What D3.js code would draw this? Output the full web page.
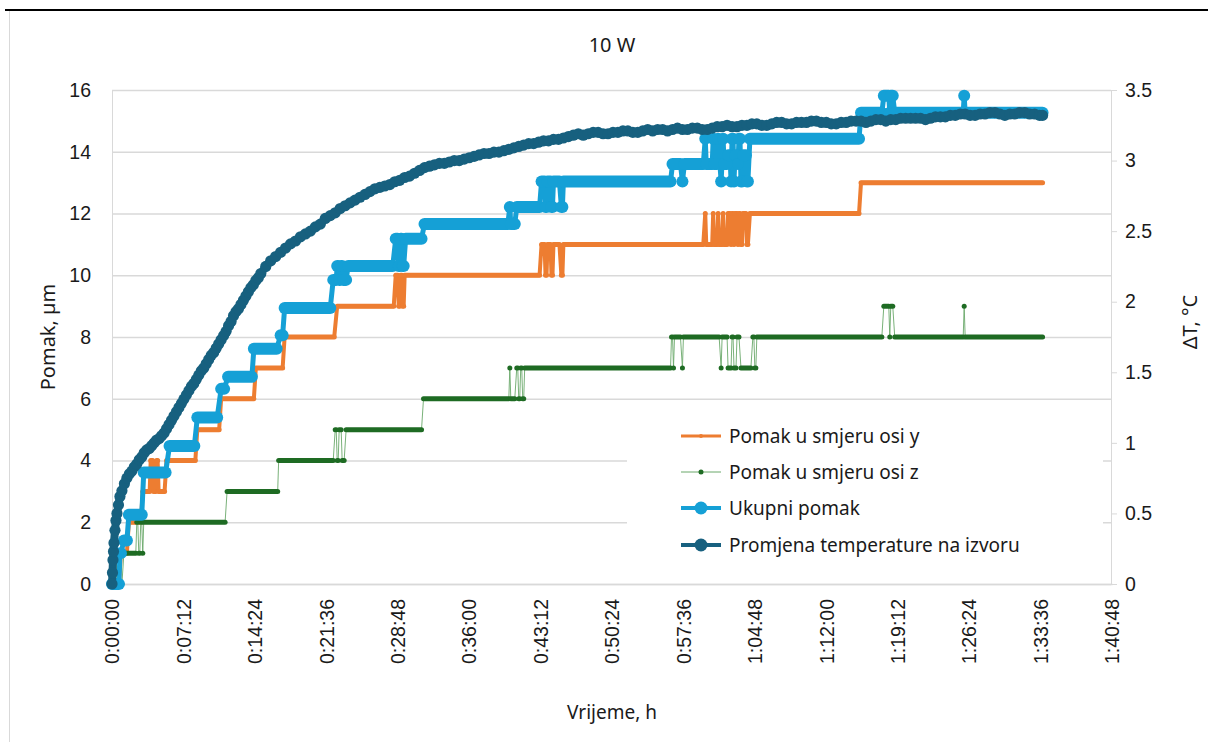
<!DOCTYPE html>
<html>
<head>
<meta charset="utf-8">
<script src="https://cdn.jsdelivr.net/npm/d3@7"></script>
<style>
  body { margin: 0; background: #fff; }
  svg { display: block; }
</style>
</head>
<body>
<svg id="chart" width="1208" height="742"></svg>
<script>
// ---- Chart data -------------------------------------------------------
const chartTitle = "10 W";
const xAxisTitle = "Vrijeme, h";
const leftAxisTitle = "Pomak, µm";
const rightAxisTitle = "ΔT, °C";

// Time axis (minutes) and its labels
const xTickMinutes = [0, 7.2, 14.4, 21.6, 28.8, 36, 43.2, 50.4, 57.6, 64.8, 72, 79.2, 86.4, 93.6, 100.8];
const xTickLabels = ["0:00:00", "0:07:12", "0:14:24", "0:21:36", "0:28:48", "0:36:00", "0:43:12",
  "0:50:24", "0:57:36", "1:04:48", "1:12:00", "1:19:12", "1:26:24", "1:33:36", "1:40:48"];
const leftTicks = [0, 2, 4, 6, 8, 10, 12, 14, 16];
const rightTicks = [0, 0.5, 1, 1.5, 2, 2.5, 3, 3.5];

const seriesNames = ["Pomak u smjeru osi y", "Pomak u smjeru osi z", "Ukupni pomak",
  "Promjena temperature na izvoru"];

// Source temperature change readings: [time min, ΔT °C]
const tempReadings = [
  [0, 0], [0.05, 0.08], [0.1, 0.17], [0.15, 0.23], [0.2, 0.29], [0.3, 0.38], [0.4, 0.45],
  [0.5, 0.50], [0.65, 0.56], [0.8, 0.62], [1.0, 0.66], [1.25, 0.71], [1.5, 0.75], [1.75, 0.78],
  [2.0, 0.80], [2.25, 0.83], [2.5, 0.85], [2.75, 0.88], [3.0, 0.90], [3.25, 0.93], [3.5, 0.95],
  [3.75, 0.96], [4.0, 0.98], [4.25, 1.00], [4.5, 1.02], [4.75, 1.03], [5.0, 1.05], [5.25, 1.07],
  [5.5, 1.10], [5.75, 1.13], [6.0, 1.16], [6.25, 1.19], [6.5, 1.22], [6.75, 1.25], [7.0, 1.28],
  [7.25, 1.31], [7.5, 1.34], [7.75, 1.37], [8.0, 1.40], [8.25, 1.42], [8.5, 1.45], [8.75, 1.48],
  [9.0, 1.51], [9.25, 1.53], [9.5, 1.56], [9.75, 1.59], [10.0, 1.62], [10.25, 1.64], [10.5, 1.67],
  [10.75, 1.70], [11.0, 1.73], [11.25, 1.76], [11.5, 1.79], [11.75, 1.83], [12.0, 1.86],
  [12.25, 1.90], [12.5, 1.93], [12.75, 1.95], [13.0, 1.98], [13.25, 2.01], [13.5, 2.04],
  [13.75, 2.07], [14.0, 2.10], [14.25, 2.12], [14.5, 2.15], [14.75, 2.17],
  [15, 2.20], [15.5, 2.25], [16, 2.29], [16.5, 2.32], [17, 2.35], [17.5, 2.38], [18, 2.41],
  [18.5, 2.43], [19, 2.46], [19.5, 2.48], [20, 2.50], [20.5, 2.53], [21, 2.55], [21.5, 2.59],
  [22, 2.61], [22.5, 2.63], [23, 2.66], [23.5, 2.68], [24, 2.70], [24.5, 2.72], [25, 2.74],
  [25.5, 2.76], [26, 2.78], [26.5, 2.80], [27, 2.81], [27.5, 2.82], [28, 2.83], [28.5, 2.85],
  [29, 2.86], [29.5, 2.88], [30, 2.89], [30.5, 2.91], [31, 2.93], [31.5, 2.95], [32, 2.96],
  [32.5, 2.97], [33, 2.98], [33.5, 2.98], [34, 2.99], [34.5, 3.00], [35, 3.00], [35.5, 3.01],
  [36, 3.02], [36.5, 3.03], [37, 3.04], [37.5, 3.05], [38, 3.05], [38.5, 3.06], [39, 3.06],
  [39.5, 3.07], [40, 3.08], [40.5, 3.09], [41, 3.10], [41.5, 3.11], [42, 3.12], [42.5, 3.12],
  [43, 3.13], [43.5, 3.14], [44, 3.14], [44.5, 3.15], [45, 3.15], [45.5, 3.16], [46, 3.17],
  [46.5, 3.18], [47, 3.19], [47.5, 3.18], [48, 3.19], [48.5, 3.20], [49, 3.20], [49.5, 3.19],
  [50, 3.19], [50.5, 3.20], [51, 3.20], [51.5, 3.21], [52, 3.21], [52.5, 3.20], [53, 3.20],
  [53.5, 3.21], [54, 3.22], [54.5, 3.21], [55, 3.22], [55.5, 3.22], [56, 3.21], [56.5, 3.22],
  [57, 3.23], [57.5, 3.22], [58, 3.22], [58.5, 3.23], [59, 3.23], [59.5, 3.22], [60, 3.22],
  [60.5, 3.23], [61, 3.24], [61.5, 3.24], [62, 3.25], [62.5, 3.24], [63, 3.24], [63.5, 3.25],
  [64, 3.25], [64.5, 3.26], [65, 3.26], [65.5, 3.25], [66, 3.25], [66.5, 3.26], [67, 3.27],
  [67.5, 3.27], [68, 3.26], [68.5, 3.26], [69, 3.27], [69.5, 3.27], [70, 3.27], [70.5, 3.28],
  [71, 3.28], [71.5, 3.27], [72, 3.27], [72.5, 3.26], [73, 3.26], [73.5, 3.27], [74, 3.27],
  [74.5, 3.28], [75, 3.28], [75.5, 3.28], [76, 3.27], [76.5, 3.28], [77, 3.29], [77.5, 3.29],
  [78, 3.28], [78.5, 3.29], [79, 3.29], [79.5, 3.30], [80, 3.30], [80.5, 3.30], [81, 3.30],
  [81.5, 3.30], [82, 3.29], [82.5, 3.30], [83, 3.31], [83.5, 3.31], [84, 3.31], [84.5, 3.32],
  [85, 3.32], [85.5, 3.33], [86, 3.33], [86.5, 3.32], [87, 3.32], [87.5, 3.33], [88, 3.33],
  [88.5, 3.34], [89, 3.34], [89.5, 3.33], [90, 3.32], [90.5, 3.33], [91, 3.33], [91.5, 3.34],
  [92, 3.34], [92.5, 3.33], [93, 3.33], [93.5, 3.32], [93.8, 3.32]
];

// Displacement readings as runs of equal value: [start min, end min, value µm]
const yRuns = [
  [0, 0.7, 0], [0.9, 1.5, 1], [1.7, 2.9, 2], [3.1, 3.8, 3], [3.9, 4.1, 4], [4.2, 4.4, 3],
  [4.5, 4.6, 4], [4.7, 5.3, 3], [5.5, 8.4, 4], [8.6, 10.8, 5], [11.0, 14.3, 6], [14.5, 17.2, 7],
  [17.4, 22.4, 8], [22.7, 28.4, 9], [28.6, 28.8, 10], [28.9, 29.0, 9], [29.1, 29.2, 10],
  [29.3, 29.4, 9], [29.5, 43.1, 10], [43.3, 43.6, 11], [43.7, 43.8, 10], [43.9, 44.2, 11],
  [44.3, 44.4, 10], [44.5, 45.1, 11], [45.3, 45.4, 10], [45.5, 59.6, 11], [59.8, 59.8, 12],
  [59.9, 60.5, 11], [60.6, 60.6, 12], [60.7, 61.0, 11], [61.1, 61.1, 12], [61.2, 61.5, 11],
  [61.6, 61.6, 12], [61.7, 62.0, 11], [62.1, 62.3, 12], [62.4, 62.4, 11], [62.5, 62.6, 12],
  [62.7, 62.7, 11], [62.8, 63.0, 12], [63.1, 63.1, 11], [63.2, 63.3, 12], [63.4, 63.5, 11],
  [63.6, 63.9, 12], [64.0, 64.1, 11], [64.3, 75.3, 12], [75.5, 93.8, 13]
];
const zRuns = [
  [0, 0.3, 0], [0.4, 0.4, 1], [0.5, 0.6, 0], [0.7, 0.7, 1], [0.8, 1.0, 0], [1.2, 2.4, 1],
  [2.5, 2.6, 2], [2.7, 2.8, 1], [2.9, 3.0, 2], [3.1, 3.1, 1], [3.2, 11.4, 2], [11.6, 16.7, 3],
  [16.8, 22.3, 4], [22.5, 22.6, 5], [22.7, 22.8, 4], [22.9, 23.1, 5], [23.2, 23.4, 4],
  [23.6, 31.2, 5], [31.4, 40.0, 6], [40.1, 40.1, 7], [40.2, 40.6, 6], [40.8, 40.9, 7],
  [41.0, 41.1, 6], [41.2, 41.3, 7], [41.4, 41.5, 6], [41.6, 56.3, 7], [56.4, 56.5, 8],
  [56.6, 56.6, 7], [56.7, 57.3, 8], [57.5, 57.5, 7], [57.6, 61.2, 8], [61.4, 61.4, 7],
  [61.5, 62.0, 8], [62.1, 62.4, 7], [62.5, 62.6, 8], [62.7, 62.9, 7], [63.0, 63.2, 8],
  [63.4, 64.4, 7], [64.6, 64.7, 8], [64.8, 64.9, 7], [65.0, 77.6, 8], [77.8, 78.3, 9],
  [78.4, 78.4, 8], [78.5, 78.7, 9], [78.9, 85.8, 8], [85.9, 85.9, 9], [86.0, 93.8, 8]
];
const totalRuns = [
  [0, 0.7, 0], [0.8, 0.9, 1.0], [1.2, 1.5, 1.41], [1.7, 3.0, 2.24], [3.2, 5.4, 3.61],
  [5.8, 8.3, 4.47], [8.6, 10.6, 5.39], [11.0, 11.3, 6.32], [11.7, 14.1, 6.71], [14.3, 16.6, 7.62],
  [17.0, 17.2, 8.06], [17.4, 22.0, 8.94], [22.3, 22.6, 9.85], [22.7, 22.8, 10.30], [22.9, 23.0, 9.85],
  [23.1, 23.2, 10.30], [23.3, 23.6, 9.85], [23.8, 28.3, 10.30], [28.6, 28.8, 11.18], [28.9, 29.0, 10.30],
  [29.1, 29.2, 11.18], [29.3, 29.4, 10.30], [29.6, 31.2, 11.18], [31.5, 39.9, 11.66], [40.1, 40.1, 12.21],
  [40.2, 40.6, 11.66], [40.8, 43.1, 12.21], [43.3, 43.6, 13.04], [43.7, 43.8, 12.21], [43.9, 44.2, 13.04],
  [44.3, 44.4, 12.21], [44.5, 45.1, 13.04], [45.3, 45.4, 12.21], [45.5, 56.3, 13.04], [56.5, 57.3, 13.60],
  [57.5, 57.5, 13.04], [57.7, 59.6, 13.60], [59.8, 59.8, 14.42], [59.9, 60.5, 13.60], [60.6, 60.6, 14.42],
  [60.7, 61.0, 13.60], [61.1, 61.1, 14.42], [61.4, 61.4, 13.04], [61.6, 61.6, 14.42], [61.7, 62.0, 13.60],
  [62.1, 62.3, 13.89], [62.4, 62.4, 13.04], [62.5, 62.6, 14.42], [62.7, 62.7, 13.04], [62.8, 63.0, 13.89],
  [63.1, 63.1, 13.60], [63.2, 63.3, 14.42], [63.4, 63.5, 13.04], [63.6, 63.9, 13.89], [64.0, 64.1, 13.04],
  [64.3, 75.3, 14.42], [75.5, 77.6, 15.26], [77.8, 78.3, 15.81], [78.4, 78.4, 15.26], [78.5, 78.7, 15.81],
  [78.9, 85.8, 15.26], [85.9, 85.9, 15.81], [86.0, 93.8, 15.26]
];

// ---- Layout & scales ---------------------------------------------------
const svg = d3.select("#chart");
const plot = { left: 112, right: 1112, top: 90, bottom: 584 };

const x = d3.scaleLinear().domain([0, 100.8]).range([plot.left, plot.right]);
const yL = d3.scaleLinear().domain([0, 16]).range([plot.bottom, plot.top]);
const yR = d3.scaleLinear().domain([0, 3.5]).range([plot.bottom, plot.top]);

const tickFont = "'Liberation Sans', Arial, sans-serif";
const textFont = "'Noto Sans', 'Open Sans', sans-serif";
const gridColor = "#d9d9d9";
const inkColor = "#1a1a1a";

// page header rule and chart frame
svg.append("line").attr("x1", 5).attr("x2", 1208).attr("y1", 10).attr("y2", 10)
  .attr("stroke", "#000").attr("stroke-width", 2);
svg.append("line").attr("x1", 9.5).attr("x2", 9.5).attr("y1", 11).attr("y2", 742)
  .attr("stroke", "#d9d9d9").attr("stroke-width", 1);

// title
svg.append("text").attr("x", 612).attr("y", 52).attr("text-anchor", "middle")
  .attr("font-family", textFont).attr("font-size", 20).attr("fill", inkColor).text(chartTitle);

// horizontal gridlines + left tick labels
const gLeft = svg.append("g").attr("transform", `translate(${plot.left},0)`)
  .call(d3.axisLeft(yL).tickValues(leftTicks).tickSize(-(plot.right - plot.left - 1)).tickPadding(21)
    .tickFormat(d3.format("d")));
gLeft.select(".domain").attr("stroke", gridColor).attr("d", `M0.5,${plot.top}V${plot.bottom}`);
gLeft.selectAll(".tick line").attr("stroke", gridColor).attr("stroke-width", 1.3);
gLeft.selectAll(".tick text").attr("font-family", tickFont).attr("font-size", 19.5).attr("fill", inkColor);

// right axis with outward ticks
const gRight = svg.append("g").attr("transform", `translate(${plot.right - 1},0)`)
  .call(d3.axisRight(yR).tickValues(rightTicks).tickSize(6).tickPadding(8)
    .tickFormat(d => Number.isInteger(d) ? d3.format("d")(d) : d3.format(".1f")(d)));
gRight.select(".domain").attr("stroke", gridColor);
gRight.selectAll(".tick line").attr("stroke", gridColor);
gRight.selectAll(".tick text").attr("font-family", tickFont).attr("font-size", 19.5).attr("fill", inkColor);

// bottom axis: rotated time labels
const gBottom = svg.append("g").attr("transform", `translate(0,${plot.bottom})`)
  .call(d3.axisBottom(x).tickValues(xTickMinutes).tickSize(0).tickFormat((d, i) => xTickLabels[i]));
gBottom.select(".domain").attr("stroke", gridColor).attr("stroke-width", 1.3);
gBottom.selectAll(".tick text")
  .attr("font-family", tickFont).attr("font-size", 19.5).attr("fill", inkColor)
  .attr("transform", "rotate(-90)").attr("text-anchor", "end")
  .attr("x", -15).attr("y", 0).attr("dy", "0.35em");

// axis titles
svg.append("text").attr("transform", "translate(55,337) rotate(-90)").attr("text-anchor", "middle")
  .attr("font-family", textFont).attr("font-size", 20).attr("fill", inkColor).text(leftAxisTitle);
svg.append("text").attr("transform", "translate(1197,322) rotate(-90)").attr("text-anchor", "middle")
  .attr("font-family", textFont).attr("font-size", 20).attr("fill", inkColor).text(rightAxisTitle);
svg.append("text").attr("x", 612).attr("y", 719).attr("text-anchor", "middle")
  .attr("font-family", textFont).attr("font-size", 19).attr("fill", inkColor).text(xAxisTitle);

// ---- Series ------------------------------------------------------------
const colY = "#ED7D31", colZ = "#1E6B23", colZLine = "#6aa86a", colTot = "#15A0D6", colTemp = "#17607F";

// path through the run endpoints (the reading-to-reading connectors)
function runPath(runs, yScale) {
  const pts = [];
  runs.forEach(r => { pts.push([r[0], r[2]]); pts.push([r[1], r[2]]); });
  return d3.line().x(d => x(d[0])).y(d => yScale(d[1]))(pts);
}
function drawRuns(runs, opt) {
  const g = svg.append("g");
  g.append("path").attr("d", runPath(runs, yL)).attr("fill", "none")
    .attr("stroke", opt.connColor).attr("stroke-width", opt.connWidth)
    .attr("stroke-opacity", opt.connOpacity || 1).attr("stroke-linejoin", "round");
  g.selectAll("line.run").data(runs).join("line").attr("class", "run")
    .attr("x1", d => x(d[0])).attr("x2", d => x(d[1]) + 0.01)
    .attr("y1", d => yL(d[2])).attr("y2", d => yL(d[2]))
    .attr("stroke", opt.runColor).attr("stroke-width", opt.runWidth).attr("stroke-linecap", "round");
}

drawRuns(yRuns, { connColor: colY, connWidth: 4, runColor: colY, runWidth: 5 });
drawRuns(zRuns, { connColor: colZLine, connWidth: 1, connOpacity: 0.9, runColor: colZ, runWidth: 5 });
drawRuns(totalRuns, { connColor: colTot, connWidth: 5, runColor: colTot, runWidth: 12 });

// temperature: line with dense markers
svg.append("path").attr("d", d3.line().x(d => x(d[0])).y(d => yR(d[1]))(tempReadings))
  .attr("fill", "none").attr("stroke", colTemp).attr("stroke-width", 8)
  .attr("stroke-linejoin", "round").attr("stroke-linecap", "round");
svg.append("g").selectAll("circle").data(tempReadings).join("circle")
  .attr("cx", d => x(d[0])).attr("cy", d => yR(d[1])).attr("r", 5.6).attr("fill", colTemp);

// ---- Legend ------------------------------------------------------------
const legend = svg.append("g");
legend.append("rect").attr("x", 627).attr("y", 412).attr("width", 476).attr("height", 160).attr("fill", "#fff");
const legendRows = [
  { y: 436, line: colY, lw: 3, dot: colY, r: 2 },
  { y: 472, line: colZLine, lw: 1, dot: colZ, r: 2.5 },
  { y: 508, line: colTot, lw: 4, dot: colTot, r: 6.5 },
  { y: 545, line: colTemp, lw: 4, dot: colTemp, r: 6.5 }
];
legendRows.forEach((row, i) => {
  legend.append("line").attr("x1", 681).attr("x2", 721).attr("y1", row.y).attr("y2", row.y)
    .attr("stroke", row.line).attr("stroke-width", row.lw);
  legend.append("circle").attr("cx", 701).attr("cy", row.y).attr("r", row.r).attr("fill", row.dot);
  legend.append("text").attr("x", 729).attr("y", row.y + 7).attr("font-family", textFont)
    .attr("font-size", 19).attr("fill", inkColor).text(seriesNames[i]);
});
</script>
</body>
</html>
